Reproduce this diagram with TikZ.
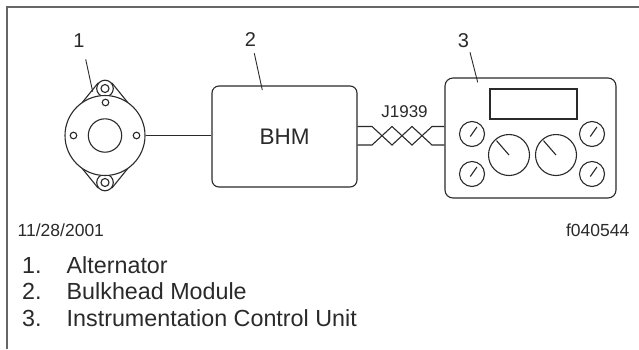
\documentclass[tikz,border=0pt]{standalone}
\usepackage{fontspec}
\setmainfont{Liberation Sans}
\usetikzlibrary{calc}
\definecolor{ink}{HTML}{2A2A2A}
\definecolor{rule}{HTML}{666666}
\tikzset{
  part/.style={draw=ink, line width=1.1pt, fill=white},
  wire/.style={draw=ink, line width=1.1pt, line join=miter},
  leader/.style={draw=ink, line width=0.9pt},
  frame/.style={draw=rule, line width=1.8pt},
  box/.style={part, rounded corners=7pt, inner sep=0pt},
  hole/.style={part, circle, inner sep=0pt},
  callout/.style={text=ink, inner sep=0pt, font=\fontsize{20}{24}\selectfont},
  caption/.style={text=ink, inner sep=0pt, anchor=base west, font=\fontsize{23.3}{26}\selectfont},
  stamp/.style={text=ink, inner sep=0pt, font=\fontsize{17.5}{20}\selectfont},
}
\begin{document}
\begin{tikzpicture}[x=1pt,y=1pt]
\useasboundingbox (0,0) rectangle (639,-349);
\fill[white] (0,0) rectangle (639,-349);

% page frame
\draw[frame] (7,-349) -- (7,-7) -- (639,-7);

% ---------- alternator ----------
\node[hole, minimum size=16.6pt] (lugT) at (105,-88.5) {};
\node[hole, minimum size=16.6pt] (lugB) at (105,-182.5) {};
\draw[wire] (lugT.141) -- ($(105,-135.5)+(125:40)$);
\draw[wire] (lugT.39) -- ($(105,-135.5)+(55:40)$);
\draw[wire] (lugB.-141) -- ($(105,-135.5)+(-125:40)$);
\draw[wire] (lugB.-39) -- ($(105,-135.5)+(-55:40)$);
\node[hole, minimum size=80pt] (alt) at (105,-135.5) {};
\node[hole, minimum size=8pt] (lugTi) at (lugT) {};
\node[hole, minimum size=8pt] (lugBi) at (lugB) {};
\node[hole, minimum size=33.4pt] (rotor) at (alt) {};
\node[hole, minimum size=6.6pt] (holeL) at ($(alt)+(-31.5,0)$) {};
\node[hole, minimum size=6.6pt] (holeR) at ($(alt)+(31.5,0)$) {};
\node[hole, minimum size=6.6pt] (holeT) at ($(alt)+(0.5,33)$) {};

% ---------- bulkhead module ----------
\node[box, minimum width=145pt, minimum height=101pt,
      font=\fontsize{22.5}{26}\selectfont, text=ink] (bhm) at (284.5,-136.5) {BHM};

% ---------- instrumentation control unit ----------
\node[box, rounded corners=8pt, minimum width=171pt, minimum height=120pt] (icu) at (530.5,-138) {};
\node[part, minimum width=87pt, minimum height=30pt, inner sep=0pt] (display) at (533.5,-104) {};
\foreach \n/\x/\y in {g1/472/-134, g2/472/-174, g3/592/-134, g4/592/-174}{
  \node[hole, minimum size=25pt] (\n) at (\x,\y) {};
  \draw[wire] ($(\n)+(235:3)$) -- ($(\n)+(55:8.5)$);
}
\foreach \n/\x in {G1/509, G2/556}{
  \node[hole, minimum size=41pt] (\n) at (\x,-155) {};
  \draw[wire] (\n.center) -- ($(\n)+(131:19)$);
}

% ---------- connections ----------
\draw[wire] (alt.east) -- (alt.east -| bhm.west);

% J1939 twisted pair
\coordinate (ta) at (bhm.east |- 0,-126.5);
\coordinate (tb) at (bhm.east |- 0,-145);
\coordinate (ua) at (icu.west |- 0,-126.5);
\coordinate (ub) at (icu.west |- 0,-145);
\draw[wire] (ta) -- (372,-126.5) -- (392,-145) -- (412,-126.5) -- (432,-145) -- (ub);
\draw[wire] (tb) -- (372,-145) -- (392,-126.5) -- (412,-145) -- (432,-126.5) -- (ua);
\node[stamp, font=\fontsize{17}{20}\selectfont] (bus) at (404.5,-111.5) {J1939};

% ---------- callouts ----------
\node[callout] (c1) at (79,-40.5) {1};
\node[callout] (c2) at (250.5,-40) {2};
\node[callout] (c3) at (463.5,-40.5) {3};
\coordinate (c1e) at (92.7,-91.7);
\coordinate (c2e) at (262.3,-90);
\coordinate (c3e) at (477.7,-82.3);
\draw[leader] (85.7,-59.3) -- (c1e);
\draw[leader] (254.3,-53.3) -- (c2e);
\draw[leader] (470,-52.3) -- (c3e);

% ---------- footer ----------
\node[stamp, anchor=base west] (date) at (17.5,-236.7) {11/28/2001};
\node[stamp, anchor=base east] (fig) at (629.5,-236.7) {f040544};

\node[caption] (n1) at (22,-273) {1.};
\node[caption] (t1) at (66.5,-273) {Alternator};
\node[caption] (n2) at (22,-299.5) {2.};
\node[caption] (t2) at (66.5,-299.5) {Bulkhead Module};
\node[caption] (n3) at (22,-326) {3.};
\node[caption] (t3) at (66.5,-326) {Instrumentation Control Unit};
\end{tikzpicture}
\end{document}
